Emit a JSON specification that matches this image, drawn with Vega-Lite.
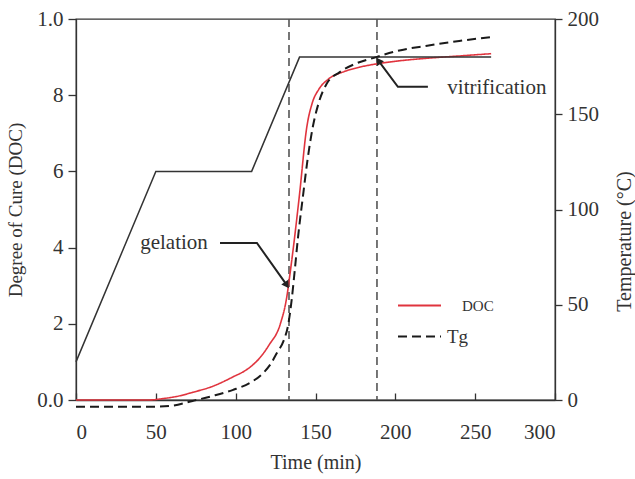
{
  "$schema": "https://vega.github.io/schema/vega-lite/v6.json",
  "width": 479,
  "height": 381,
  "autosize": "none",
  "padding": {"left": 76, "top": 19, "right": 80, "bottom": 79},
  "background": "white",
  "config": {
    "font": "Liberation Serif",
    "view": {"stroke": "#333", "strokeWidth": 1.3},
    "axis": {
      "labelFont": "Liberation Serif",
      "titleFont": "Liberation Serif",
      "labelFontSize": 21,
      "titleFontSize": 20,
      "titleFontWeight": "normal",
      "labelColor": "#333",
      "titleColor": "#333",
      "domainColor": "#333",
      "tickColor": "#333",
      "domainWidth": 1.3,
      "tickWidth": 1.3,
      "grid": false
    },
    "legend": {
      "labelFont": "Liberation Serif",
      "labelColor": "#333"
    }
  },
  "encoding": {
    "x": {
      "field": "t",
      "type": "quantitative",
      "scale": {"domain": [0, 300], "nice": false},
      "axis": {
        "values": [0, 50, 100, 150, 200, 250, 300],
        "title": "Time (min)",
        "tickSize": -7,
        "labelPadding": 28,
        "titlePadding": 10
      }
    }
  },
  "layer": [
    {
      "encoding": {
        "y": {
          "field": "doc",
          "type": "quantitative",
          "scale": {"domain": [0, 1], "nice": false},
          "axis": {
            "orient": "left",
            "values": [0, 0.2, 0.4, 0.6, 0.8, 1],
            "labelExpr": "datum.value == 0 ? '0.0' : datum.value == 1 ? '1.0' : format(datum.value * 10, 'd')",
            "title": "Degree of Cure (DOC)",
            "titleFontSize": 19,
            "tickSize": 8,
            "labelPadding": 5,
            "titlePadding": 11
          }
        }
      },
      "layer": [
        {
          "data": {"values": [{"t": 133.4}, {"t": 188.5}]},
          "mark": {"type": "rule", "color": "#555", "strokeWidth": 1.6, "strokeDash": [8, 5]},
          "encoding": {"y": null}
        },
        {
          "data": {
            "values": [
              {"t": 0, "doc": 0, "series": "DOC"},
              {"t": 45, "doc": 0, "series": "DOC"},
              {"t": 55, "doc": 0.004, "series": "DOC"},
              {"t": 65, "doc": 0.011, "series": "DOC"},
              {"t": 73, "doc": 0.02, "series": "DOC"},
              {"t": 85, "doc": 0.035, "series": "DOC"},
              {"t": 98, "doc": 0.06, "series": "DOC"},
              {"t": 108, "doc": 0.083, "series": "DOC"},
              {"t": 115, "doc": 0.11, "series": "DOC"},
              {"t": 121, "doc": 0.145, "series": "DOC"},
              {"t": 128, "doc": 0.2, "series": "DOC"},
              {"t": 132, "doc": 0.27, "series": "DOC"},
              {"t": 134, "doc": 0.33, "series": "DOC"},
              {"t": 137, "doc": 0.43, "series": "DOC"},
              {"t": 140, "doc": 0.54, "series": "DOC"},
              {"t": 144.5, "doc": 0.715, "series": "DOC"},
              {"t": 148, "doc": 0.78, "series": "DOC"},
              {"t": 152, "doc": 0.815, "series": "DOC"},
              {"t": 158, "doc": 0.842, "series": "DOC"},
              {"t": 168, "doc": 0.862, "series": "DOC"},
              {"t": 178, "doc": 0.874, "series": "DOC"},
              {"t": 188, "doc": 0.882, "series": "DOC"},
              {"t": 200, "doc": 0.889, "series": "DOC"},
              {"t": 220, "doc": 0.897, "series": "DOC"},
              {"t": 240, "doc": 0.903, "series": "DOC"},
              {"t": 260, "doc": 0.909, "series": "DOC"}
            ]
          },
          "mark": {"type": "line", "strokeWidth": 1.6, "interpolate": "monotone"},
          "encoding": {
            "color": {
              "field": "series",
              "type": "nominal",
              "scale": {"domain": ["DOC", "Tg"], "range": ["#e0343e", "#1a1a1a"]},
              "legend": {
                "title": null,
                "orient": "none",
                "legendX": 321,
                "legendY": 264,
                "symbolType": "stroke",
                "symbolSize": 1849,
                "symbolStrokeWidth": 2,
                "rowPadding": 0,
                "labelOffset": 18,
                "padding": 0,
                "labelFontSize": 19,
                "encode": {
                  "labels": {
                    "update": {
                      "fontSize": {"signal": "datum.value == 'DOC' ? 15 : 19"},
                      "dx": {"signal": "datum.value == 'DOC' ? 2 : -13"}
                    }
                  }
                }
              }
            },
            "strokeDash": {
              "field": "series",
              "type": "nominal",
              "scale": {"domain": ["DOC", "Tg"], "range": [[1, 0], [9, 5]]},
              "legend": {
                "title": null,
                "orient": "none",
                "legendX": 321,
                "legendY": 264,
                "symbolType": "stroke",
                "symbolSize": 1849,
                "symbolStrokeWidth": 2,
                "rowPadding": 0,
                "labelOffset": 18,
                "padding": 0,
                "labelFontSize": 19,
                "encode": {
                  "labels": {
                    "update": {
                      "fontSize": {"signal": "datum.value == 'DOC' ? 15 : 19"},
                      "dx": {"signal": "datum.value == 'DOC' ? 2 : -13"}
                    }
                  }
                }
              }
            }
          }
        },
        {
          "data": {
            "values": [
              {"t": 90.2, "doc": 0.412, "id": "gelation", "o": 1},
              {"t": 113.3, "doc": 0.412, "id": "gelation", "o": 2},
              {"t": 131.5, "doc": 0.305, "id": "gelation", "o": 3},
              {"t": 220.4, "doc": 0.822, "id": "vitrification", "o": 1},
              {"t": 201.6, "doc": 0.822, "id": "vitrification", "o": 2},
              {"t": 189.5, "doc": 0.89, "id": "vitrification", "o": 3}
            ]
          },
          "mark": {"type": "line", "color": "#222", "strokeWidth": 2},
          "encoding": {
            "detail": {"field": "id", "type": "nominal"},
            "order": {"field": "o", "type": "quantitative"}
          }
        },
        {
          "data": {"values": [{"t": 131.6, "doc": 0.304}]},
          "mark": {"type": "point", "shape": "triangle", "filled": true, "color": "#222", "opacity": 1, "size": 70, "angle": 145}
        },
        {
          "data": {"values": [{"t": 189.9, "doc": 0.888}]},
          "mark": {"type": "point", "shape": "triangle", "filled": true, "color": "#222", "opacity": 1, "size": 70, "angle": 324}
        },
        {
          "data": {
            "values": [
              {"t": 61.4, "doc": 0.412, "label": "gelation"},
              {"t": 263.6, "doc": 0.819, "label": "vitrification"}
            ]
          },
          "mark": {"type": "text", "fontSize": 21, "color": "#333", "align": "center", "baseline": "middle", "font": "Liberation Serif"},
          "encoding": {"text": {"field": "label", "type": "nominal"}}
        }
      ]
    },
    {
      "encoding": {
        "y": {
          "field": "temp",
          "type": "quantitative",
          "scale": {"domain": [0, 200], "nice": false},
          "axis": {
            "orient": "right",
            "values": [0, 50, 100, 150, 200],
            "title": "Temperature (°C)",
            "titleAngle": 270,
            "titleBaseline": "middle",
            "titleX": 69,
            "titleY": 222,
            "tickSize": 7,
            "labelPadding": 5
          }
        }
      },
      "layer": [
        {
          "data": {
            "values": [
              {"t": 0, "temp": 20},
              {"t": 50, "temp": 120},
              {"t": 110, "temp": 120},
              {"t": 140, "temp": 180},
              {"t": 260, "temp": 180}
            ]
          },
          "mark": {"type": "line", "color": "#333", "strokeWidth": 1.5}
        },
        {
          "data": {
            "values": [
              {"t": 0, "temp": -3.5, "series": "Tg"},
              {"t": 50, "temp": -3.5, "series": "Tg"},
              {"t": 60, "temp": -3, "series": "Tg"},
              {"t": 73, "temp": -0.5, "series": "Tg"},
              {"t": 85, "temp": 2, "series": "Tg"},
              {"t": 98, "temp": 5.2, "series": "Tg"},
              {"t": 110, "temp": 9.5, "series": "Tg"},
              {"t": 117, "temp": 14, "series": "Tg"},
              {"t": 122, "temp": 19, "series": "Tg"},
              {"t": 126, "temp": 25, "series": "Tg"},
              {"t": 130, "temp": 31, "series": "Tg"},
              {"t": 133, "temp": 40, "series": "Tg"},
              {"t": 135, "temp": 52, "series": "Tg"},
              {"t": 137, "temp": 68, "series": "Tg"},
              {"t": 139, "temp": 85, "series": "Tg"},
              {"t": 142, "temp": 106, "series": "Tg"},
              {"t": 145, "temp": 126, "series": "Tg"},
              {"t": 148, "temp": 142, "series": "Tg"},
              {"t": 152, "temp": 156, "series": "Tg"},
              {"t": 157, "temp": 166, "series": "Tg"},
              {"t": 165, "temp": 172, "series": "Tg"},
              {"t": 175, "temp": 176.5, "series": "Tg"},
              {"t": 188, "temp": 180, "series": "Tg"},
              {"t": 200, "temp": 183, "series": "Tg"},
              {"t": 220, "temp": 186, "series": "Tg"},
              {"t": 240, "temp": 188.5, "series": "Tg"},
              {"t": 260, "temp": 190.5, "series": "Tg"}
            ]
          },
          "mark": {"type": "line", "strokeWidth": 2, "interpolate": "monotone", "clip": false},
          "encoding": {
            "color": {"field": "series", "type": "nominal"},
            "strokeDash": {"field": "series", "type": "nominal"}
          }
        }
      ]
    }
  ],
  "resolve": {"scale": {"y": "independent"}, "axis": {"y": "independent"}}
}
